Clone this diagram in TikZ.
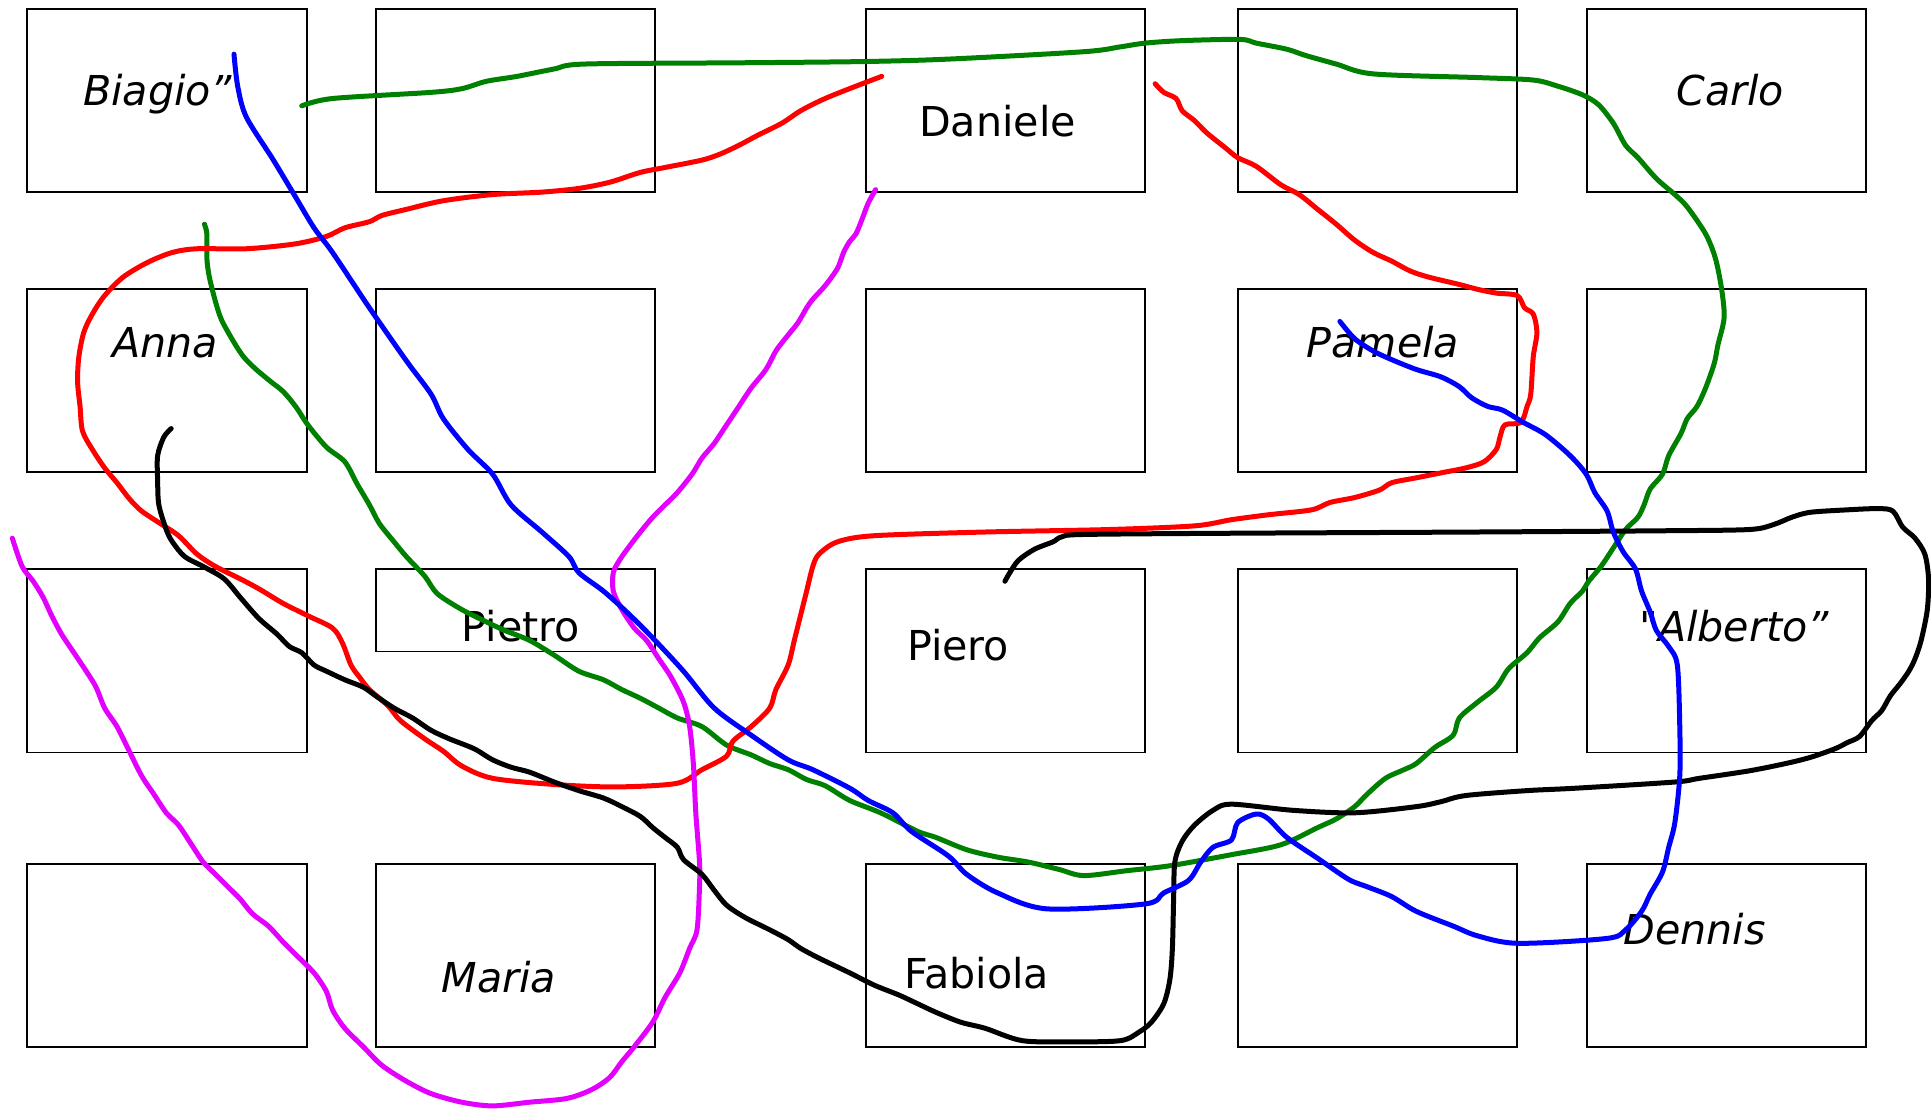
\documentclass[tikz,border=0pt]{standalone}
\usepackage{fontspec}
\setmainfont{DejaVu Sans}[Ligatures=TeXOff]
\begin{document}
\begin{tikzpicture}[x=0.6158pt,y=-0.6158pt,
  box/.style={draw=black,line width=0.95pt,rectangle,inner sep=0pt,outer sep=0pt,minimum width=139.8pt,minimum height=91.8pt},
  lbl/.style={inner sep=0pt,anchor=base,font=\fontsize{20.6}{24}\selectfont},
  ilbl/.style={lbl,font=\fontsize{20.6}{24}\selectfont\itshape},
  pen/.style={line width=2.5pt,line cap=round,line join=round},
  sm/.style={smooth,tension=0.5}]
\definecolor{pred}{RGB}{255,0,0}
\definecolor{pblue}{RGB}{0,0,255}
\definecolor{pgreen}{RGB}{0,128,0}
\definecolor{pmag}{RGB}{228,0,255}
\useasboundingbox[fill=white] (0,0) rectangle (1568,901);
% boxes
\foreach \c/\x in {1/135.5,2/418.5,3/816.5,4/1118.5,5/1402} {
  \node[box] (r1c\c) at (\x,81.5) {};
  \node[box] (r2c\c) at (\x,309) {};
  \node[box] (r4c\c) at (\x,776) {};
}
\foreach \c/\x in {1/135.5,3/816.5,4/1118.5,5/1402} {
  \node[box] (r3c\c) at (\x,536.5) {};
}
\node[box,minimum height=41.3pt] (r3c2) at (418.5,495.5) {};
% labels
\node[ilbl] (biagio) at (128,86) {Biagio”};
\node[lbl] (daniele) at (810,111) {Daniele};
\node[ilbl] (carlo) at (1405,86) {Carlo};
\node[ilbl] (anna) at (134,290) {Anna};
\node[ilbl] (pamela) at (1123,290) {Pamela};
\node[lbl] (pietro) at (423,521) {Pietro};
\node[lbl] (piero) at (778,536) {Piero};
\node[ilbl] (alberto) at (1408,521) {"Alberto”};
\node[ilbl] (maria) at (405,806) {Maria};
\node[lbl] (fabiola) at (793,803) {Fabiola};
\node[ilbl] (dennis) at (1376,767) {Dennis};
% green
\draw[pen,pgreen] plot[sm] coordinates {(245,86) (270,80) (350,75) (375,72) (395,66) (420,62) (450,56) (475,52) (600,51) (700,50) (770,48) (880,42) (910,38) (930,35) (960,33) (1007,32) (1020,35) (1045,40) (1060,45) (1085,52) (1115,60) (1200,63) (1245,65) (1265,70) (1285,77) (1298,85) (1310,100) (1320,118) (1330,128) (1345,145) (1360,158) (1370,168) (1385,190) (1393,210) (1398,235) (1400,258) (1395,280) (1392,295) (1385,315) (1378,330) (1370,340) (1365,352) (1355,370) (1350,385) (1340,397) (1335,410) (1330,420) (1320,430) (1310,445) (1300,460) (1290,472) (1285,480) (1275,490) (1265,505) (1250,518) (1240,530) (1225,543) (1215,558) (1200,570) (1185,583) (1180,597) (1165,607) (1150,620) (1140,625) (1125,632) (1110,645) (1100,655) (1085,665) (1070,672) (1040,686) (1000,694) (950,703) (915,707) (880,711) (860,706) (835,700) (810,696) (785,690) (760,680) (745,675) (715,660) (690,650) (670,638) (655,633) (640,625) (625,620) (610,613) (590,605) (570,590) (550,583) (535,575) (520,567) (505,560) (490,552) (470,545) (450,532) (430,520) (410,512) (395,505) (375,495) (355,482) (345,468) (330,452) (320,440) (308,425) (300,410) (290,393) (280,375) (265,363) (250,345) (240,330) (230,318) (220,310) (208,300) (198,290) (190,278) (180,260) (175,245) (170,225) (168,210) (168,190) (166,182)};
% red
\draw[pen,pred] plot[sm] coordinates {(716,62) (695,70) (670,80) (650,90) (635,100) (615,110) (600,118) (585,125) (570,130) (540,136) (520,140) (495,148) (470,153) (440,156) (400,158) (360,163) (330,170) (310,175) (300,180) (280,185) (265,192) (240,198) (200,202) (160,202) (140,205) (120,213) (100,225) (85,240) (75,255) (68,270) (64,290) (63,310) (65,330) (67,350) (75,365) (85,380) (95,392) (105,405) (115,415) (130,425) (145,435) (160,450) (175,460) (195,470) (210,478) (230,490) (250,500) (270,510) (278,522) (285,540) (292,550) (300,560) (315,573) (325,585) (345,600) (360,610) (375,622) (400,632) (450,637) (500,639) (550,636) (570,625) (590,614) (595,602) (610,590) (625,575) (630,560) (640,540) (645,520) (650,500) (655,480) (660,460) (665,450) (680,440) (710,435) (800,432) (900,430) (970,427) (1000,422) (1030,418) (1065,414) (1080,408) (1100,404) (1120,398) (1130,392) (1150,388) (1170,384) (1190,380) (1205,375) (1215,365) (1218,355) (1222,345) (1235,343) (1240,330) (1243,320) (1245,290) (1248,270) (1245,255) (1238,250) (1232,240) (1215,238) (1200,235) (1185,231) (1160,225) (1145,220) (1130,212) (1115,205) (1100,195) (1085,182) (1070,170) (1055,158) (1040,150) (1020,135) (1005,128) (995,120) (980,108) (970,98) (960,90) (955,80) (945,75) (938,68)};
% magenta
\draw[pen,pmag] plot[sm] coordinates {(711,154) (705,165) (700,178) (695,190) (690,196) (685,205) (680,218) (670,232) (660,243) (655,250) (648,262) (640,272) (630,285) (622,300) (610,315) (600,330) (590,345) (580,360) (570,372) (562,385) (550,400) (540,410) (530,420) (520,432) (510,445) (503,455) (498,465) (498,480) (505,495) (515,510) (525,520) (535,535) (545,550) (555,570) (560,590) (563,620) (565,660) (568,700) (568,720) (566,755) (560,770) (552,790) (540,810) (530,830) (515,850) (505,862) (495,875) (480,885) (460,892) (430,895) (400,898) (375,895) (350,888) (330,878) (310,865) (295,850) (280,835) (270,820) (265,805) (255,790) (240,775) (230,765) (218,752) (205,742) (195,730) (185,720) (175,710) (165,700) (155,685) (145,670) (135,660) (125,645) (115,630) (105,610) (95,590) (85,575) (78,558) (70,545) (60,530) (50,515) (42,500) (35,485) (27,472) (18,460) (10,437)};
% black
\draw[pen,black] plot[sm] coordinates {(139,348) (133,355) (128,370) (128,390) (129,410) (135,430) (140,440) (150,452) (165,460) (182,470) (195,485) (210,502) (225,515) (235,525) (245,530) (255,540) (265,545) (280,552) (295,558) (305,565) (320,575) (335,583) (350,593) (365,600) (385,608) (400,617) (415,623) (430,627) (450,635) (470,642) (490,648) (505,655) (520,663) (530,672) (540,680) (550,688) (555,698) (570,710) (580,723) (590,735) (605,745) (625,755) (640,763) (650,770) (665,778) (690,790) (710,800) (730,808) (745,815) (760,822) (780,830) (800,835) (830,845) (870,846) (910,845) (925,838) (935,830) (945,815) (950,795) (952,770) (953,730) (954,700) (960,683) (970,670) (985,658) (1000,653) (1050,658) (1100,660) (1150,655) (1170,651) (1190,646) (1240,642) (1280,640) (1360,635) (1380,632) (1420,626) (1450,620) (1470,615) (1490,608) (1500,603) (1510,598) (1520,585) (1528,577) (1535,565) (1543,555) (1550,545) (1555,535) (1560,520) (1565,495) (1566,470) (1563,450) (1555,437) (1545,428) (1537,415) (1525,413) (1500,414) (1470,416) (1455,420) (1440,426) (1420,430) (1350,431) (1200,432) (1000,433) (880,434) (862,436) (855,440) (840,446) (827,455) (820,465) (816,472)};
% blue
\draw[pen,pblue] plot[sm] coordinates {(190,44) (193,70) (200,95) (222,130) (240,160) (255,185) (270,205) (300,250) (330,293) (350,320) (360,340) (380,365) (400,385) (415,410) (440,432) (462,452) (470,465) (490,480) (510,498) (530,518) (555,545) (580,575) (610,597) (640,617) (660,625) (690,640) (705,650) (725,660) (740,675) (770,695) (785,710) (810,725) (850,738) (930,734) (945,725) (965,715) (975,700) (985,688) (1000,682) (1005,668) (1020,661) (1030,665) (1045,680) (1070,697) (1095,714) (1110,720) (1130,728) (1150,740) (1180,752) (1200,760) (1233,766) (1305,762) (1320,755) (1333,740) (1340,726) (1350,708) (1355,688) (1360,668) (1364,630) (1364,590) (1362,540) (1355,525) (1345,512) (1340,497) (1333,480) (1328,462) (1318,448) (1310,432) (1305,415) (1295,400) (1288,385) (1275,370) (1255,353) (1237,343) (1220,333) (1208,330) (1195,323) (1185,314) (1170,306) (1150,300) (1130,292) (1115,285) (1100,275) (1088,261)};
\end{tikzpicture}
\end{document}
